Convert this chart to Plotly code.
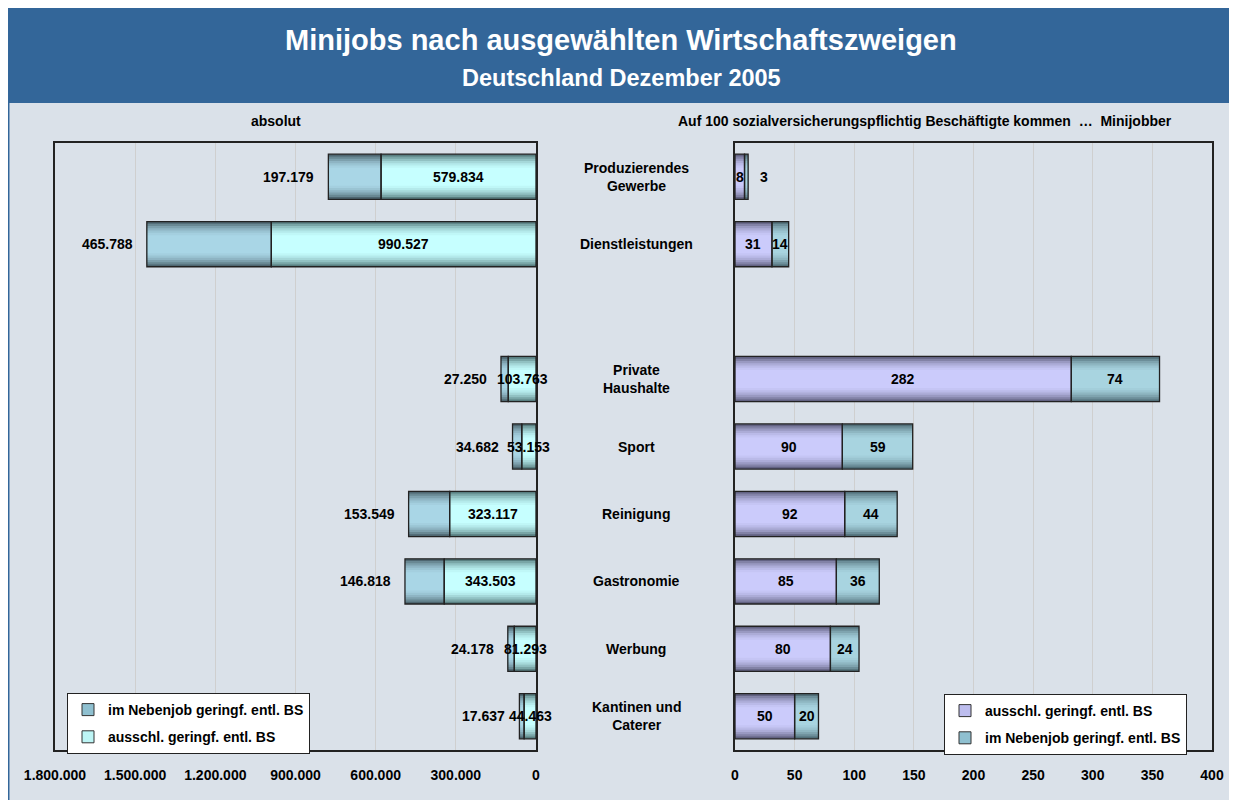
import plotly.graph_objects as go

# page is rendered with an 8px body margin -> figure sized to fit the window
OFF = 8
W, H = 1237 - 2 * OFF, 808 - 2 * OFF

# ---------------- data ----------------
categories = ["Produzierendes<br>Gewerbe", "Dienstleistungen", " ", "Private<br>Haushalte",
              "Sport", "Reinigung", "Gastronomie", "Werbung", "Kantinen und<br>Caterer"]
data_cats = ["Produzierendes<br>Gewerbe", "Dienstleistungen", "Private<br>Haushalte",
             "Sport", "Reinigung", "Gastronomie", "Werbung", "Kantinen und<br>Caterer"]

abs_ausschl = [579834, 990527, 103763, 53153, 323117, 343503, 81293, 44463]
abs_neben = [197179, 465788, 27250, 34682, 153549, 146818, 24178, 17637]

rel_ausschl = [8, 31, 282, 90, 92, 85, 80, 50]
rel_neben = [3, 14, 74, 59, 44, 36, 24, 20]

left_ticks = [0, 300000, 600000, 900000, 1200000, 1500000, 1800000]
right_ticks = [0, 50, 100, 150, 200, 250, 300, 350, 400]

name_ausschl = "ausschl. geringf. entl. BS"
name_neben = "im Nebenjob geringf. entl. BS"

title = "Minijobs nach ausgewählten Wirtschaftszweigen"
subtitle = "Deutschland Dezember 2005"
left_header = "absolut"
right_header = "Auf 100 sozialversicherungspflichtig Beschäftigte kommen  …  Minijobber"

# ---------------- style ----------------
FONT = "Liberation Sans, Arial, sans-serif"
BANNER = "#336699"
PANEL = "#DAE1E9"
BAR_W = 0.67

def px_x(p):
    return min(max((p - OFF) / W, 0.0), 1.0)

def px_y(p):
    return min(max(1 - (p - OFF) / H, 0.0), 1.0)

def hex2rgb(h):
    h = h.lstrip("#")
    return tuple(int(h[i:i + 2], 16) for i in (0, 2, 4))

def lerp(c1, c2, t):
    a, b = hex2rgb(c1), hex2rgb(c2)
    return "rgb(%d,%d,%d)" % tuple(round(a[i] + (b[i] - a[i]) * t) for i in range(3))

FRACS = [1.0, 0.9, 0.8, 0.7, 0.6, 0.5, 0.4]
TS = [0.0, 0.3, 0.52, 0.7, 0.84, 0.94, 1.0]

def de(v):
    return f"{v:,}".replace(",", ".")

fig = go.Figure()

def add_series(vals, base, edge, center, xaxis, yaxis):
    for frac, t in zip(FRACS, TS):
        fig.add_trace(go.Bar(
            x=vals, y=data_cats, base=base, orientation="h",
            width=BAR_W * frac, marker=dict(color=lerp(edge, center, t), line=dict(width=0)),
            showlegend=False, hoverinfo="skip", xaxis=xaxis, yaxis=yaxis))

def add_outline(vals, base, xaxis, yaxis):
    fig.add_trace(go.Bar(
        x=vals, y=data_cats, base=base, orientation="h", width=BAR_W,
        marker=dict(color="rgba(0,0,0,0)", line=dict(color="#222222", width=1.3)),
        showlegend=False, hoverinfo="skip", xaxis=xaxis, yaxis=yaxis))

def add_legend(name, color, legend, group, xaxis, yaxis):
    fig.add_trace(go.Bar(
        x=[None], y=[None], orientation="h", name=name, legend=legend, legendgroup=group,
        marker=dict(color=color, line=dict(color="#333333", width=1)),
        xaxis=xaxis, yaxis=yaxis))

# left (absolute)
zero = [0] * len(abs_ausschl)
add_series(abs_ausschl, zero, "#587E80", "#C6FFFF", "x", "y")
add_series(abs_neben, abs_ausschl, "#4E6670", "#A9D6E6", "x", "y")
add_outline(abs_ausschl, zero, "x", "y")
add_outline(abs_neben, abs_ausschl, "x", "y")

# right (relative)
add_series(rel_ausschl, zero, "#626282", "#CBCBFB", "x2", "y2")
add_series(rel_neben, rel_ausschl, "#52707A", "#A8D4E0", "x2", "y2")
add_outline(rel_ausschl, zero, "x2", "y2")
add_outline(rel_neben, rel_ausschl, "x2", "y2")

# legends
add_legend(name_neben, "#8FC0D0", "legend", "a", "x", "y")
add_legend(name_ausschl, "#BDF5F5", "legend", "b", "x", "y")
add_legend(name_ausschl, "#BDBDEE", "legend2", "c", "x2", "y2")
add_legend(name_neben, "#8FC0D0", "legend2", "d", "x2", "y2")

lab_font = dict(family=FONT, size=14, color="black", weight="bold")
ann = []
for c, a, n in zip(data_cats, abs_ausschl, abs_neben):
    ann.append(dict(x=a / 2, y=c, xref="x", yref="y", text=de(a), showarrow=False,
                    font=lab_font, xanchor="center"))
    ann.append(dict(x=a + n, y=c, xref="x", yref="y", text=de(n), showarrow=False,
                    font=lab_font, xanchor="right", xshift=-12))
for c, a, n in zip(data_cats, rel_ausschl, rel_neben):
    ann.append(dict(x=a / 2, y=c, xref="x2", yref="y2", text=str(a), showarrow=False,
                    font=lab_font, xanchor="center"))
    if n < 6:
        ann.append(dict(x=a + n, y=c, xref="x2", yref="y2", text=str(n), showarrow=False,
                        font=lab_font, xanchor="left", xshift=10))
    else:
        ann.append(dict(x=a + n / 2, y=c, xref="x2", yref="y2", text=str(n), showarrow=False,
                        font=lab_font, xanchor="center"))
for c in data_cats:
    ann.append(dict(x=px_x(636), y=c, xref="paper", yref="y2", text=c, showarrow=False,
                    font=lab_font, xanchor="center", align="center"))

ann.append(dict(x=px_x(621), y=px_y(40), xref="paper", yref="paper", text=title, showarrow=False,
                font=dict(family=FONT, size=29, color="white", weight="bold"),
                xanchor="center", yanchor="middle"))
ann.append(dict(x=px_x(621), y=px_y(78), xref="paper", yref="paper", text=subtitle, showarrow=False,
                font=dict(family=FONT, size=23.5, color="white", weight="bold"),
                xanchor="center", yanchor="middle"))
ann.append(dict(x=px_x(276), y=px_y(121), xref="paper", yref="paper", text=left_header, showarrow=False,
                font=dict(family=FONT, size=14, color="black", weight="bold"),
                xanchor="center", yanchor="middle"))
ann.append(dict(x=px_x(925), y=px_y(121), xref="paper", yref="paper", text=right_header, showarrow=False,
                font=dict(family=FONT, size=14, color="black", weight="bold"),
                xanchor="center", yanchor="middle"))

shapes = [
    dict(type="rect", xref="paper", yref="paper", x0=0, x1=1.0, y0=0, y1=px_y(103),
         fillcolor=PANEL, line=dict(width=0), layer="below"),
    dict(type="rect", xref="paper", yref="paper", x0=0, x1=1.0, y0=px_y(103), y1=1.0,
         fillcolor=BANNER, line=dict(width=0), layer="below"),
    dict(type="line", xref="paper", yref="paper", x0=0.0006, x1=0.0006, y0=0, y1=1,
         line=dict(color=BANNER, width=1.5), layer="below"),
]

ydom = [px_y(750), px_y(143)]
tick_font = dict(family=FONT, size=14, color="black", weight="bold")
xcommon = dict(showgrid=True, gridcolor="#CFCFCF", gridwidth=1, zeroline=False,
               showline=True, linecolor="#222222", linewidth=2, mirror=True,
               ticks="outside", ticklen=11, tickcolor="rgba(0,0,0,0)",
               tickfont=tick_font, automargin=False)
ycommon = dict(type="category", categoryorder="array", categoryarray=categories,
               range=[len(categories) - 0.5, -0.5], showticklabels=False, showgrid=False,
               zeroline=False, showline=True, linecolor="#222222", linewidth=2, mirror=True,
               ticks="", domain=ydom, automargin=False)

legend_font = dict(family=FONT, size=14, color="black", weight="bold")

fig.update_layout(
    template="none",
    width=W, height=H, margin=dict(l=0, r=0, t=0, b=0, pad=0, autoexpand=False),
    paper_bgcolor="white", plot_bgcolor="white",
    barmode="overlay", separators=",.",
    font=dict(family=FONT, color="black"),
    xaxis=dict(domain=[px_x(55), px_x(536)], range=[1800000, 0], tickvals=left_ticks,
               tickformat=",d", anchor="y", **xcommon),
    yaxis=dict(anchor="x", **ycommon),
    xaxis2=dict(domain=[px_x(735), px_x(1212)], range=[0, 400], tickvals=right_ticks,
                anchor="y2", **xcommon),
    yaxis2=dict(anchor="x2", **ycommon),
    legend=dict(x=px_x(67), y=px_y(693), xanchor="left", yanchor="top", bgcolor="white",
                bordercolor="#222222", borderwidth=1, font=legend_font,
                traceorder="grouped", tracegroupgap=6),
    legend2=dict(x=px_x(944), y=px_y(694), xanchor="left", yanchor="top", bgcolor="white",
                 bordercolor="#222222", borderwidth=1, font=legend_font,
                 traceorder="grouped", tracegroupgap=6),
    annotations=ann, shapes=shapes,
)

fig.write_html("out.html")
